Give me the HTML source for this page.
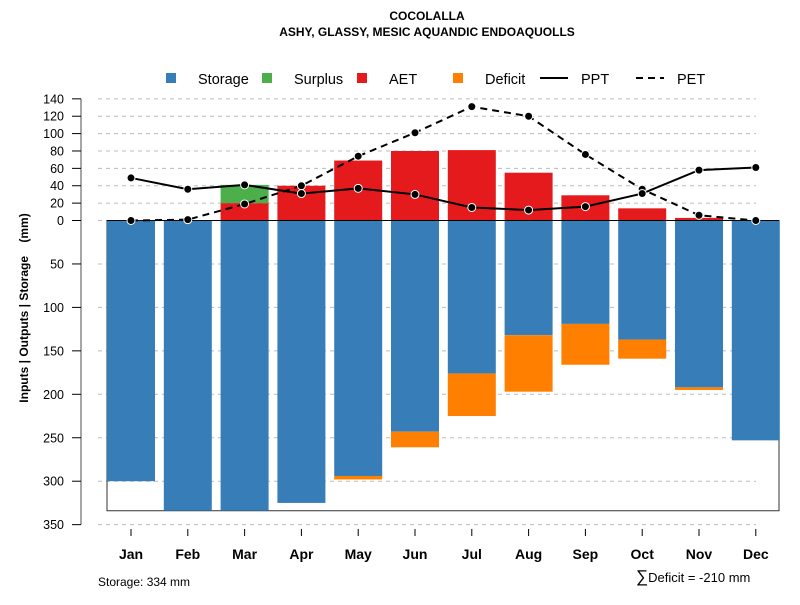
<!DOCTYPE html>
<html><head><meta charset="utf-8"><style>
body{margin:0;background:#fff;font-family:"Liberation Sans",Arial,sans-serif}
svg text{font-family:"Liberation Sans",Arial,sans-serif}
</style></head><body>
<svg id="c" width="800" height="600" xmlns="http://www.w3.org/2000/svg"></svg>
<script>
const months=["Jan","Feb","Mar","Apr","May","Jun","Jul","Aug","Sep","Oct","Nov","Dec"];
const storage=[300,334,334,325,294,243,176,132,119,137,192,253];
const deficit=[0,0,0,0,4,18,49,65,47,22,3,0];
const aet=[0,0,20,40,69,80,81,55,29,14,3,0];
const surplus=[0,0,21,0,0,0,0,0,0,0,0,0];
const ppt=[49,36,41,31,37,30,15,12,16,31,58,61];
const pet=[0,1,19,40,74,101,131,120,76,36,6,0];
const upTicks=[0,20,40,60,80,100,120,140];
const downTicks=[50,100,150,200,250,300,350];
const maxStorage=334;

const svg=document.getElementById('c');
const NS='http://www.w3.org/2000/svg';
function mk(t,a,parent){const e=document.createElementNS(NS,t);for(const k in a)e.setAttribute(k,a[k]);(parent||svg).appendChild(e);return e;}
const y0=220.5,k=0.869;
function yUp(v){return y0-v*k;}
function yDn(v){return y0+v*k;}
function xC(i){return 131+i*56.8;}
const bw=48;

upTicks.forEach(t=>{const l=mk('line',{x1:98,x2:756,y1:yUp(t),y2:yUp(t),stroke:'#bbb','stroke-dasharray':'4,4'});
});
downTicks.forEach(t=>{const l=mk('line',{x1:98,x2:756,y1:yDn(t),y2:yDn(t),stroke:'#bbb','stroke-dasharray':'4,4'});
});

const box=mk('rect',{x:107,y:y0,width:672,height:maxStorage*k,fill:'none',stroke:'#333','stroke-width':1});


months.forEach((m,i)=>{
  const x=xC(i)-bw/2;
  let r=mk('rect',{x:x,y:y0,width:bw,height:storage[i]*k,fill:'#377EB8'});
  
  if(deficit[i]>0){r=mk('rect',{x:x,y:yDn(storage[i]),width:bw,height:deficit[i]*k,fill:'#FF7F00'});
  }
  if(aet[i]>0){r=mk('rect',{x:x,y:yUp(aet[i]),width:bw,height:aet[i]*k,fill:'#E41A1C'});
  }
  if(surplus[i]>0){r=mk('rect',{x:x,y:yUp(aet[i]+surplus[i]),width:bw,height:surplus[i]*k,fill:'#4DAF4A'});
  }
  mk('line',{x1:xC(i),x2:xC(i),y1:529,y2:536,stroke:'#000'});
  const t=mk('text',{x:xC(i),y:559,'text-anchor':'middle','font-size':14,'font-weight':'bold'});t.textContent=m;
  
});
mk('line',{x1:107,x2:779,y1:y0,y2:y0,stroke:'#000'});

function line(vals,dash,name){
  const p=mk('polyline',{points:vals.map((v,i)=>xC(i)+','+yUp(v)).join(' '),fill:'none',stroke:'#000','stroke-width':2,'stroke-dasharray':dash});
  
  vals.forEach((v,i)=>{const c=mk('circle',{cx:xC(i),cy:yUp(v),r:4,fill:'#000',stroke:'#fff','stroke-width':1});
  });
}
line(pet,'7,5','pet');
line(ppt,'none','ppt');

const ax=mk('line',{x1:81,x2:81,y1:yUp(140),y2:yDn(350),stroke:'#888','stroke-width':1.5});

upTicks.forEach(t=>{mk('line',{x1:72,x2:81,y1:yUp(t),y2:yUp(t),stroke:'#000'});
const tx=mk('text',{x:64,y:yUp(t)+4.5,'text-anchor':'end','font-size':12.5});tx.textContent=t;
});
downTicks.forEach(t=>{mk('line',{x1:72,x2:81,y1:yDn(t),y2:yDn(t),stroke:'#000'});
const tx=mk('text',{x:64,y:yDn(t)+4.5,'text-anchor':'end','font-size':12.5});tx.textContent=t;
});
</script>
<svg style="position:absolute;left:0;top:0" width="800" height="600" xmlns="http://www.w3.org/2000/svg">
<text x="427" y="20" text-anchor="middle" font-size="12" font-weight="bold">COCOLALLA</text>
<text x="427" y="36" text-anchor="middle" font-size="12" font-weight="bold">ASHY, GLASSY, MESIC AQUANDIC ENDOAQUOLLS</text>
<g font-size="14.5">
<rect x="166" y="73" width="10" height="10" fill="#377EB8"/><text x="198" y="84">Storage</text>
<rect x="262" y="73" width="10" height="10" fill="#4DAF4A"/><text x="294" y="84">Surplus</text>
<rect x="357" y="73" width="10" height="10" fill="#E41A1C"/><text x="389" y="84">AET</text>
<rect x="453" y="73" width="10" height="10" fill="#FF7F00"/><text x="485" y="84">Deficit</text>
<line x1="540" x2="568" y1="78" y2="78" stroke="#000" stroke-width="2"/><text x="581" y="84">PPT</text>
<line x1="636" x2="664" y1="78" y2="78" stroke="#000" stroke-width="2" stroke-dasharray="7,5"/><text x="677" y="84">PET</text>
</g>
<text transform="translate(28,308) rotate(-90)" text-anchor="middle" font-size="12" font-weight="bold" xml:space="preserve">Inputs | Outputs | Storage    (mm)</text>
<text x="98" y="586" font-size="12">Storage: 334 mm</text>
<text x="636" y="582" font-size="13"><tspan font-size="17">∑</tspan>Deficit = -210 mm</text>
</svg>
</body></html>
